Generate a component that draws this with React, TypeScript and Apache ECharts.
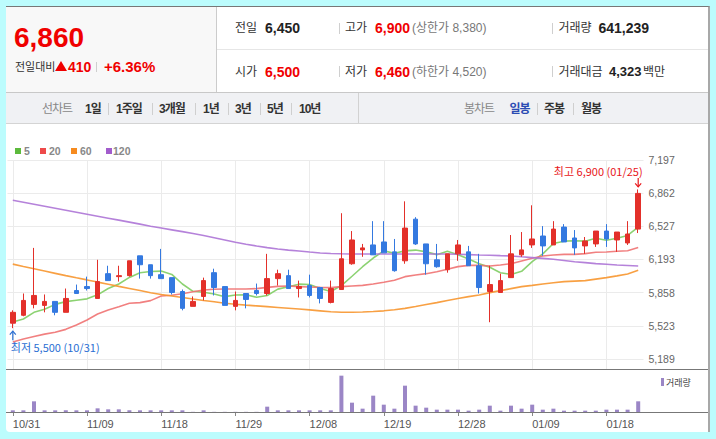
import React, { useEffect, useRef } from "react";
import * as echarts from "echarts";

const dates = [
  "10/31", "11/01", "11/02", "11/03", "11/04", "11/07", "11/08", "11/09", "11/10", "11/11",
  "11/14", "11/15", "11/16", "11/17", "11/18", "11/21", "11/22", "11/23", "11/24", "11/25",
  "11/28", "11/29", "11/30", "12/01", "12/02", "12/05", "12/06", "12/07", "12/08", "12/09",
  "12/12", "12/13", "12/14", "12/15", "12/16", "12/19", "12/20", "12/21", "12/22", "12/23",
  "12/26", "12/27", "12/28", "12/29", "01/02", "01/03", "01/04", "01/05", "01/06", "01/09",
  "01/10", "01/11", "01/12", "01/13", "01/16", "01/17", "01/18", "01/19", "01/20", "01/25",
];
const opens = [
  5550, 5630, 5740, 5730, 5770, 5660, 5880, 5920, 5800, 6050,
  6020, 6030, 6230, 6140, 6040, 6010, 5870, 5720, 5820, 6060,
  5920, 5720, 5850, 5880, 5850, 6000, 6030, 5900, 5930, 5910,
  5760, 5890, 6150, 6290, 6340, 6370, 6270, 6180, 6600, 6350,
  6190, 6090, 6250, 6270, 6130, 5870, 5860, 6010, 6240, 6340,
  6430, 6340, 6520, 6410, 6330, 6350, 6480, 6390, 6360, 6500,
];
const closes = [
  5660, 5780, 5830, 5770, 5660, 5800, 5850, 5900, 5970, 5980,
  6030, 6180, 6140, 6030, 6000, 5860, 5700, 5770, 5980, 5910,
  5730, 5780, 5790, 5850, 6000, 6050, 5900, 5920, 5830, 5800,
  5900, 6200, 6390, 6310, 6240, 6260, 6080, 6510, 6350, 6150,
  6120, 6250, 6340, 6130, 5910, 5940, 5980, 6250, 6290, 6400,
  6330, 6500, 6370, 6310, 6380, 6480, 6400, 6470, 6450, 6860,
];
const lows = [
  5500, 5620, 5700, 5660, 5630, 5660, 5850, 5880, 5800, 5980,
  5970, 6020, 6000, 6000, 6000, 5840, 5680, 5720, 5780, 5830,
  5730, 5680, 5700, 5830, 5830, 5930, 5900, 5810, 5810, 5750,
  5750, 5890, 6140, 6220, 6240, 6260, 6070, 6150, 6340, 6040,
  6110, 6060, 6180, 6130, 5850, 5560, 5860, 6010, 6220, 6310,
  6230, 6340, 6370, 6240, 6250, 6320, 6320, 6270, 6340, 6460,
];
const highs = [
  5680, 5850, 6310, 5840, 5770, 5900, 5940, 6020, 6190, 6130,
  6130, 6180, 6230, 6140, 6300, 6010, 5890, 5820, 6010, 6100,
  5920, 5870, 5850, 5950, 6250, 6090, 6090, 5980, 6040, 5910,
  5980, 6660, 6480, 6350, 6580, 6580, 6400, 6780, 6620, 6350,
  6350, 6250, 6390, 6330, 6250, 6130, 6050, 6440, 6470, 6740,
  6530, 6580, 6550, 6490, 6420, 6480, 6550, 6470, 6580, 6900,
];
const volumes = [
  100000, 100000, 640000, 100000, 100000, 100000, 100000, 100000, 220000, 160000,
  160000, 100000, 100000, 100000, 100000, 100000, 100000, 10000, 100000, 10000,
  10000, 10000, 10000, 10000, 320000, 100000, 100000, 100000, 100000, 100000,
  100000, 2180000, 560000, 200000, 980000, 440000, 200000, 1580000, 380000, 260000,
  140000, 140000, 140000, 80000, 140000, 380000, 80000, 380000, 200000, 440000,
  140000, 200000, 80000, 80000, 80000, 80000, 140000, 140000, 140000, 641239,
];
const ma5 = [
  5563, 5593, 5660, 5690, 5740, 5768, 5782, 5796, 5836, 5900,
  5946, 6012, 6060, 6072, 6076, 6042, 5946, 5872, 5862, 5844,
  5818, 5834, 5838, 5812, 5830, 5894, 5918, 5944, 5940, 5900,
  5870, 5930, 6024, 6120, 6208, 6280, 6256, 6280, 6288, 6270,
  6242, 6276, 6242, 6198, 6150, 6114, 6060, 6042, 6074, 6172,
  6250, 6354, 6378, 6382, 6378, 6408, 6388, 6408, 6436, 6520,
];
const ma20 = [
  5360, 5390, 5415, 5440, 5458, 5488, 5532, 5583, 5643, 5684,
  5717, 5751, 5758, 5778, 5825, 5832, 5848, 5868, 5885, 5892,
  5895, 5895, 5895, 5899, 5912, 5922, 5926, 5919, 5916, 5912,
  5909, 5919, 5926, 5932, 5946, 5963, 5983, 6020, 6037, 6050,
  6070, 6094, 6121, 6134, 6134, 6128, 6138, 6151, 6178, 6205,
  6229, 6239, 6245, 6245, 6252, 6266, 6269, 6276, 6282, 6313,
];
const ma60 = [
  6146, 6122, 6099, 6076, 6053, 6030, 6008, 5987, 5965, 5944,
  5922, 5901, 5880, 5858, 5840, 5825, 5810, 5795, 5780, 5766,
  5752, 5742, 5733, 5725, 5717, 5709, 5701, 5693, 5685, 5675,
  5665, 5660, 5660, 5663, 5668, 5675, 5686, 5700, 5718, 5738,
  5758, 5780, 5800, 5818, 5835, 5859, 5879, 5899, 5919, 5932,
  5946, 5958, 5970, 5975, 5980, 5995, 6010, 6028, 6047, 6084,
];
const ma120 = [
  6790, 6770, 6750, 6730, 6710, 6690, 6670, 6650, 6630, 6610,
  6590, 6570, 6550, 6528, 6510, 6492, 6474, 6455, 6436, 6413,
  6390, 6367, 6347, 6329, 6313, 6299, 6288, 6279, 6268, 6259,
  6254, 6251, 6249, 6249, 6249, 6249, 6249, 6249, 6249, 6249,
  6249, 6248, 6246, 6242, 6238, 6236, 6232, 6229, 6220, 6212,
  6204, 6195, 6183, 6171, 6161, 6151, 6145, 6138, 6133, 6128,
];
const priceTicks = [5189, 5523, 5858, 6193, 6527, 6862, 7197];
const maNames = ["5", "20", "60", "120"];

const PRICE_MIN = 5088;
const PRICE_MAX = 7197;
const VOL_MAX = 2520000;

const UP = "#e3302a";
const DOWN = "#3479e0";
const HRED = "#f00000";
const VOL = "#9b86c6";
const MA_LINE = ["#80cd63", "#f07272", "#f7962f", "#ad74d6"];
const MA_KEY = ["#5cba3c", "#ee4a4a", "#f68b1f", "#a25ccc"];
const FONT = '"Liberation Sans", "Noto Sans CJK KR", sans-serif';

function Txt(props: any) {
  const { x, y, size, color = "#333", bold = false, ls = 0, children } = props;
  return (
    <div
      style={{
        position: "absolute",
        left: x,
        top: y - size,
        height: size * 2,
        lineHeight: `${size * 2}px`,
        fontSize: size,
        color,
        fontWeight: bold ? 700 : 400,
        fontFamily: FONT,
        whiteSpace: "nowrap",
        letterSpacing: ls,
      }}
    >
      {children}
    </div>
  );
}

function VSep(props: any) {
  const { x, y, h, color = "#cfcfcf" } = props;
  return <div style={{ position: "absolute", left: x, top: y, width: 1, height: h, background: color }} />;
}

export default function App() {
  const ref = useRef<HTMLDivElement>(null);

  useEffect(() => {
    const chart = echarts.init(ref.current as HTMLDivElement, null, { renderer: "svg" });
    const candleData = dates.map((_, i) => [opens[i], closes[i], lows[i], highs[i]]);
    const maData = [ma5, ma20, ma60, ma120];
    const option: any = {
      animation: false,
      grid: [
        { left: 7.5, top: 160, width: 636, height: 209 },
        { left: 7.5, top: 370, width: 636, height: 42 },
      ],
      xAxis: [
        {
          type: "category",
          data: dates,
          gridIndex: 0,
          boundaryGap: true,
          axisLine: { show: false },
          axisTick: { show: false },
          axisLabel: { show: false },
          splitLine: { show: true, interval: 6, alignWithLabel: true, lineStyle: { color: "#ebebeb", width: 1 } },
        },
        {
          type: "category",
          data: dates,
          gridIndex: 1,
          boundaryGap: true,
          axisLine: { show: false },
          axisTick: { show: true, interval: 6, alignWithLabel: true, length: 4, lineStyle: { color: "#888" } },
          axisLabel: {
            interval: 6,
            align: "left",
            margin: 6,
            color: "#555",
            fontSize: 11,
            fontFamily: "Liberation Sans",
          },
          splitLine: { show: false },
        },
      ],
      yAxis: [
        {
          type: "value",
          gridIndex: 0,
          position: "right",
          min: PRICE_MIN,
          max: PRICE_MAX,
          axisLine: { show: false },
          axisTick: { show: false, customValues: priceTicks },
          axisLabel: {
            customValues: priceTicks,
            margin: 5,
            color: "#666",
            fontSize: 10.5,
            fontFamily: "Liberation Sans",
            formatter: (v: number) => Math.round(v).toLocaleString("en-US"),
          },
          splitLine: { show: true, lineStyle: { color: "#ebebeb", width: 1 } },
        },
        {
          type: "value",
          gridIndex: 1,
          min: 0,
          max: VOL_MAX,
          show: false,
          splitLine: { show: false },
        },
      ],
      series: [
        ...maData.map((d, k) => ({
          name: maNames[k],
          type: "line",
          xAxisIndex: 0,
          yAxisIndex: 0,
          data: d,
          showSymbol: false,
          symbol: "none",
          z: 2,
          lineStyle: { color: MA_LINE[k], width: 1.6, opacity: 0.9 },
        })),
        {
          type: "candlestick",
          xAxisIndex: 0,
          yAxisIndex: 0,
          data: candleData,
          barWidth: 5,
          z: 3,
          itemStyle: { color: UP, color0: DOWN, borderColor: UP, borderColor0: DOWN, borderWidth: 1 },
        },
        {
          type: "bar",
          xAxisIndex: 1,
          yAxisIndex: 1,
          data: volumes,
          barWidth: 4,
          itemStyle: { color: VOL },
        },
      ],
    };
    chart.setOption(option);

    const hiIdx = highs.indexOf(Math.max(...highs));
    const loIdx = lows.indexOf(Math.min(...lows));
    const hp = chart.convertToPixel({ gridIndex: 0 }, [dates[hiIdx], highs[hiIdx]]) as number[];
    const lp = chart.convertToPixel({ gridIndex: 0 }, [dates[loIdx], lows[loIdx]]) as number[];
    const hx = hp[0], hy = hp[1], lx = lp[0], ly = lp[1];
    const HI = "#e8161b";
    const LO = "#2a6ed3";
    const keyX = [15, 40, 71, 106];
    const keyTX = [24, 49, 80, 113];
    const graphic: any[] = [];
    maNames.forEach((n, k) => {
      graphic.push({ type: "rect", z: 100, shape: { x: keyX[k], y: 148, width: 6, height: 6 }, style: { fill: MA_KEY[k] } });
      graphic.push({
        type: "text", z: 100,
        style: { text: n, x: keyTX[k], y: 151, verticalAlign: "middle", fill: "#888", font: 'bold 10.5px "Liberation Sans"' },
      });
    });
    graphic.push({ type: "rect", z: 100, shape: { x: 6, y: 369, width: 702, height: 1 }, style: { fill: "#777" } });
    graphic.push({ type: "rect", z: 100, shape: { x: 6, y: 412, width: 702, height: 1 }, style: { fill: "#777" } });
    graphic.push({ type: "rect", z: 100, shape: { x: 661, y: 378, width: 3, height: 8 }, style: { fill: VOL } });
    graphic.push({
      type: "text", z: 100,
      style: { text: "거래량", x: 666, y: 382, verticalAlign: "middle", fill: "#444", font: '9px "Noto Sans CJK KR"' },
    });
    graphic.push({
      type: "text", z: 100,
      style: {
        text: `최고 ${highs[hiIdx].toLocaleString("en-US")} (${dates[hiIdx]})`,
        x: hx + 4.5, y: hy - 18.5, align: "right", verticalAlign: "middle", fill: HI,
        font: '11px "Noto Sans CJK KR"',
      },
    });
    graphic.push({ type: "line", z: 100, shape: { x1: hx, y1: hy - 11.5, x2: hx, y2: hy - 2.5 }, style: { stroke: HI, lineWidth: 1.2 } });
    graphic.push({
      type: "polyline", z: 100,
      shape: { points: [[hx - 3, hy - 6], [hx, hy - 2.5], [hx + 3, hy - 6]] },
      style: { stroke: HI, lineWidth: 1.2, fill: null },
    });
    graphic.push({
      type: "text", z: 100,
      style: {
        text: `최저 ${lows[loIdx].toLocaleString("en-US")} (${dates[loIdx]})`,
        x: lx - 2, y: ly + 19, align: "left", verticalAlign: "middle", fill: LO,
        font: '11px "Noto Sans CJK KR"',
      },
    });
    graphic.push({ type: "line", z: 100, shape: { x1: lx, y1: ly + 3, x2: lx, y2: ly + 12 }, style: { stroke: LO, lineWidth: 1.2 } });
    graphic.push({
      type: "polyline", z: 100,
      shape: { points: [[lx - 3, ly + 6.5], [lx, ly + 3], [lx + 3, ly + 6.5]] },
      style: { stroke: LO, lineWidth: 1.2, fill: null },
    });
    chart.setOption({ graphic });

    return () => chart.dispose();
  }, []);

  const navLeft: [string, number][] = [["1일", 85], ["1주일", 116], ["3개월", 159], ["1년", 203], ["3년", 235], ["5년", 267], ["10년", 299]];
  const navSepL = [108, 152, 195, 228, 260, 291];

  return (
    <div style={{ position: "fixed", left: 0, top: 0, width: 716, height: 439, background: "#bcfcfd", overflow: "hidden" }}>
      <div
        style={{
          position: "absolute", left: 6, top: 6, width: 702, height: 425,
          background: "#fff", borderTop: "1px solid #777", borderRight: "2px solid #a8a8a8",
          borderBottomLeftRadius: 4,
        }}
      />
      {/* header left panel */}
      <div style={{ position: "absolute", left: 6, top: 7, width: 210, height: 85, background: "#f8f8f8" }} />
      <div style={{ position: "absolute", left: 216, top: 7, width: 1, height: 85, background: "#cccccc" }} />
      <div style={{ position: "absolute", left: 217, top: 49, width: 491, height: 1, background: "#e6e6e6" }} />
      <Txt x={14} y={37.5} size={28} bold color={HRED}>6,860</Txt>
      <Txt x={15} y={66.7} size={11} color="#333">전일대비</Txt>
      <div
        style={{
          position: "absolute", left: 55, top: 61, width: 0, height: 0,
          borderLeft: "6px solid transparent", borderRight: "6px solid transparent", borderBottom: `10.5px solid ${HRED}`,
        }}
      />
      <Txt x={68} y={66.5} size={14} bold color={HRED}>410</Txt>
      <VSep x={96} y={62} h={10} />
      <Txt x={104} y={66.5} size={15} bold color={HRED}>+6.36%</Txt>

      {/* header rows */}
      <Txt x={235} y={28.3} size={12}>전일</Txt>
      <Txt x={265} y={28.3} size={14} bold color="#222">6,450</Txt>
      <VSep x={339} y={23} h={11} />
      <Txt x={345} y={28.3} size={12}>고가</Txt>
      <Txt x={375} y={28.3} size={14} bold color={HRED}>6,900</Txt>
      <Txt x={412} y={28.3} size={12} color="#777">(상한가 8,380)</Txt>
      <VSep x={552} y={23} h={11} />
      <Txt x={558.5} y={28.3} size={12}>거래량</Txt>
      <Txt x={598.5} y={28.3} size={14} bold color="#222">641,239</Txt>

      <Txt x={235} y={71.7} size={12}>시가</Txt>
      <Txt x={265} y={71.7} size={14} bold color={HRED}>6,500</Txt>
      <VSep x={339} y={66} h={11} />
      <Txt x={345} y={71.7} size={12}>저가</Txt>
      <Txt x={375} y={71.7} size={14} bold color={HRED}>6,460</Txt>
      <Txt x={412} y={71.7} size={12} color="#777">(하한가 4,520)</Txt>
      <VSep x={552} y={66} h={11} />
      <Txt x={558.5} y={71.7} size={12}>거래대금</Txt>
      <Txt x={609} y={71.7} size={13} bold color="#222">4,323</Txt>
      <Txt x={643} y={71.7} size={12}>백만</Txt>

      {/* nav bar */}
      <div
        style={{
          position: "absolute", left: 6, top: 92, width: 702, height: 30, background: "#f0f1f4",
          borderTop: "1px solid #c8c8c8", borderBottom: "1px solid #d4d4d4",
        }}
      />
      <div style={{ position: "absolute", left: 358, top: 93, width: 1, height: 30, background: "#d2d2d2" }} />
      <Txt x={42} y={108.5} size={12} color="#888" ls={-1}>선차트</Txt>
      {navLeft.map(([t, x]) => (
        <Txt key={t} x={x} y={108.5} size={12} bold color="#333" ls={-1}>{t}</Txt>
      ))}
      {navSepL.map((x) => (
        <VSep key={x} x={x} y={103} h={12} />
      ))}
      <Txt x={464} y={108.5} size={12} color="#888" ls={-1}>봉차트</Txt>
      <Txt x={509.5} y={108.5} size={12} bold color="#2b4cb3" ls={-1}>일봉</Txt>
      <VSep x={537} y={103} h={12} />
      <Txt x={544} y={108.5} size={12} bold color="#333" ls={-1}>주봉</Txt>
      <VSep x={573} y={103} h={12} />
      <Txt x={581} y={108.5} size={12} bold color="#333" ls={-1}>월봉</Txt>

      <div ref={ref} style={{ position: "absolute", left: 0, top: 0, width: 716, height: 439 }} />
    </div>
  );
}
